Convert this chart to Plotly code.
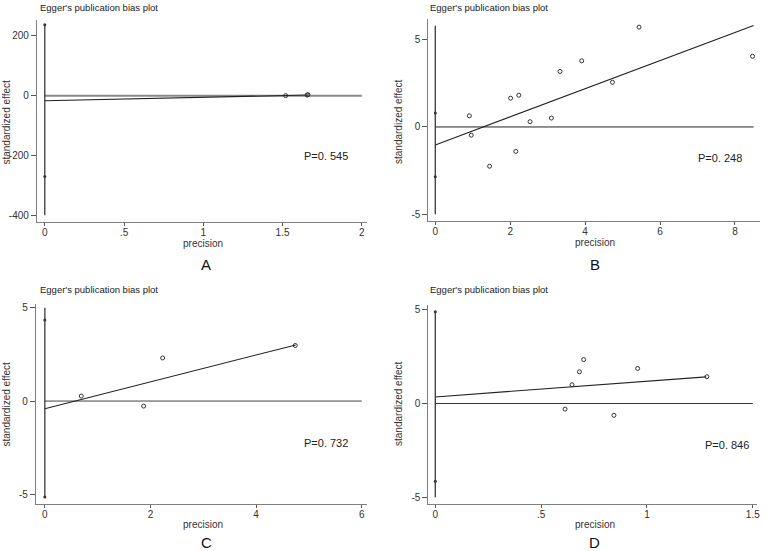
import plotly.graph_objects as go

W, H = 767, 551

# ---------------- data ----------------
# Panel A
a_prec = [1.52, 1.655, 1.66]
a_eff = [0.0, 2.0, 3.0]
a_ci = [237, -270]            # markers on the x=0 line
a_vline = [-400, 237]         # extent of the x=0 line
a_intercept, a_slope, a_xend = -17.0, 11.4, 1.66
a_hend = 2.0
a_p = "P=0. 545"

# Panel B
b_prec = [0.91, 0.96, 1.45, 2.01, 2.23, 2.15, 2.53, 3.10, 3.33, 3.91, 4.73, 5.44, 8.47]
b_eff = [0.64, -0.47, -2.25, 1.65, 1.82, -1.40, 0.30, 0.51, 3.18, 3.79, 2.56, 5.72, 4.05]
b_ci = [0.8, -2.85]
b_vline = [-5.0, 5.8]
b_intercept, b_slope, b_xend = -1.03, 0.805, 8.5
b_hend = 8.5
b_p = "P=0. 248"

# Panel C
c_prec = [0.69, 1.87, 2.23, 4.74]
c_eff = [0.27, -0.27, 2.31, 2.98]
c_ci = [4.35, -5.15]
c_vline = [-5.15, 5.0]
c_intercept, c_slope, c_xend = -0.41, 0.72, 4.75
c_hend = 6.0
c_p = "P=0. 732"

# Panel D
d_prec = [0.613, 0.646, 0.681, 0.701, 0.844, 0.956, 1.283]
d_eff = [-0.30, 1.00, 1.69, 2.34, -0.63, 1.87, 1.43]
d_ci = [4.9, -4.15]
d_vline = [-5.0, 4.9]
d_intercept, d_slope, d_xend = 0.35, 0.835, 1.28
d_hend = 1.5
d_p = "P=0. 846"

title_text = "Egger's publication bias plot"
ytitle = "standardized effect"
xtitle = "precision"
letters = ["A", "B", "C", "D"]

a_xticks = [0, 0.5, 1, 1.5, 2]
a_xticktext = ["0", ".5", "1", "1.5", "2"]
a_yticks = [200, 0, -200, -400]
b_xticks = [0, 2, 4, 6, 8]
b_yticks = [5, 0, -5]
c_xticks = [0, 2, 4, 6]
c_yticks = [5, 0, -5]
d_xticks = [0, 0.5, 1, 1.5]
d_xticktext = ["0", ".5", "1", "1.5"]
d_yticks = [5, 0, -5]

# ---------------- layout geometry (pixels) ----------------
panels = [
    dict(prec=a_prec, eff=a_eff, ci=a_ci, vline=a_vline, b0=a_intercept, b1=a_slope, xend=a_xend,
         hend=a_hend, p=a_p, xdom=(37, 368), ydom=(18, 221), xr=(-0.05, 2.03), yr=(-423, 253),
         xt=a_xticks, xtt=a_xticktext, yt=a_yticks, ptxt=(303, 155),
         ttl=(38, 6), yl=(7, 120), xl=(204, 242), let=(207, 263), hcol="#8a8a8a", hw=2),
    dict(prec=b_prec, eff=b_eff, ci=b_ci, vline=b_vline, b0=b_intercept, b1=b_slope, xend=b_xend,
         hend=b_hend, p=b_p, xdom=(430, 763), ydom=(17, 220), xr=(-0.186, 8.67), yr=(-5.4, 6.19),
         xt=b_xticks, xtt=[str(v) for v in b_xticks], yt=b_yticks, ptxt=(699, 157),
         ttl=(430, 6), yl=(400, 120), xl=(597, 241), let=(597, 263), hcol="#222222", hw=1),
    dict(prec=c_prec, eff=c_eff, ci=c_ci, vline=c_vline, b0=c_intercept, b1=c_slope, xend=c_xend,
         hend=c_hend, p=c_p, xdom=(36, 368), ydom=(303, 504), xr=(-0.17, 6.09), yr=(-5.53, 5.21),
         xt=c_xticks, xtt=[str(v) for v in c_xticks], yt=c_yticks, ptxt=(303, 443),
         ttl=(38, 289), yl=(7, 403), xl=(204, 524), let=(207, 542), hcol="#444444", hw=1),
    dict(prec=d_prec, eff=d_eff, ci=d_ci, vline=d_vline, b0=d_intercept, b1=d_slope, xend=d_xend,
         hend=d_hend, p=d_p, xdom=(430, 760), ydom=(304, 504), xr=(-0.033, 1.52), yr=(-5.37, 5.26),
         xt=d_xticks, xtt=d_xticktext, yt=d_yticks, ptxt=(706, 445),
         ttl=(430, 289), yl=(400, 403), xl=(597, 524), let=(597, 542), hcol="#333333", hw=1),
]

fig = go.Figure()
annotations = []
FONT = "Liberation Sans, Arial, sans-serif"

for i, pn in enumerate(panels):
    k = "" if i == 0 else str(i + 1)
    xa, ya = "x" + k, "y" + k
    # zero line
    fig.add_trace(go.Scatter(x=[0, pn["hend"]], y=[0, 0], mode="lines",
                             line=dict(color=pn["hcol"], width=pn["hw"]),
                             xaxis=xa, yaxis=ya, hoverinfo="skip"))
    # vertical line at x = 0
    fig.add_trace(go.Scatter(x=[0, 0], y=pn["vline"], mode="lines",
                             line=dict(color="#3a3a3a", width=1.3),
                             xaxis=xa, yaxis=ya, hoverinfo="skip"))
    # regression line
    fig.add_trace(go.Scatter(x=[0, pn["xend"]], y=[pn["b0"], pn["b0"] + pn["b1"] * pn["xend"]],
                             mode="lines", line=dict(color="#222222", width=1.1),
                             xaxis=xa, yaxis=ya, hoverinfo="skip"))
    # CI markers on x=0
    fig.add_trace(go.Scatter(x=[0] * len(pn["ci"]), y=pn["ci"], mode="markers",
                             marker=dict(symbol="circle", size=3, color="#333333"),
                             xaxis=xa, yaxis=ya))
    # study points
    fig.add_trace(go.Scatter(x=pn["prec"], y=pn["eff"], mode="markers",
                             marker=dict(symbol="circle-open", size=4, color="#333333",
                                         line=dict(width=1)),
                             xaxis=xa, yaxis=ya))

    axis_common = dict(showline=True, linecolor="#808080", linewidth=1, showgrid=False,
                       zeroline=False, ticks="outside", tickcolor="#555555",
                       tickfont=dict(family=FONT, size=10, color="#333333"), fixedrange=True)
    fig.layout["xaxis" + k] = dict(
        axis_common, domain=[pn["xdom"][0] / W, pn["xdom"][1] / W], anchor=ya,
        range=list(pn["xr"]), tickvals=pn["xt"], ticktext=pn["xtt"], ticklen=3,
        ticklabelstandoff=-2)
    fig.layout["yaxis" + k] = dict(
        axis_common, domain=[1 - pn["ydom"][1] / H, 1 - pn["ydom"][0] / H], anchor=xa,
        range=list(pn["yr"]), tickvals=pn["yt"], ticktext=[str(v) for v in pn["yt"]],
        ticklen=5)

    annotations += [
        dict(text=title_text, x=pn["ttl"][0] / W, y=1 - pn["ttl"][1] / H, xref="paper", yref="paper",
             xanchor="left", yanchor="middle", showarrow=False,
             font=dict(family=FONT, size=9.5, color="#222222")),
        dict(text=ytitle, x=pn["yl"][0] / W, y=1 - pn["yl"][1] / H, xref="paper", yref="paper",
             xanchor="center", yanchor="middle", textangle=-90, showarrow=False,
             font=dict(family=FONT, size=10, color="#333333")),
        dict(text=xtitle, x=pn["xl"][0] / W, y=1 - pn["xl"][1] / H, xref="paper", yref="paper",
             xanchor="center", yanchor="middle", showarrow=False,
             font=dict(family=FONT, size=10, color="#333333")),
        dict(text=letters[i], x=pn["let"][0] / W, y=1 - pn["let"][1] / H, xref="paper", yref="paper",
             xanchor="center", yanchor="middle", showarrow=False,
             font=dict(family="Liberation Sans Narrow, Arial Narrow, sans-serif", size=15, color="#111111")),
        dict(text=pn["p"], x=pn["ptxt"][0] / W, y=1 - pn["ptxt"][1] / H, xref="paper", yref="paper",
             xanchor="left", yanchor="middle", showarrow=False,
             font=dict(family=FONT, size=11, color="#222222")),
    ]

fig.update_layout(width=W, height=H, margin=dict(l=0, r=0, t=0, b=0),
                  paper_bgcolor="white", plot_bgcolor="white", showlegend=False,
                  annotations=annotations)

fig.write_html("out.html")
